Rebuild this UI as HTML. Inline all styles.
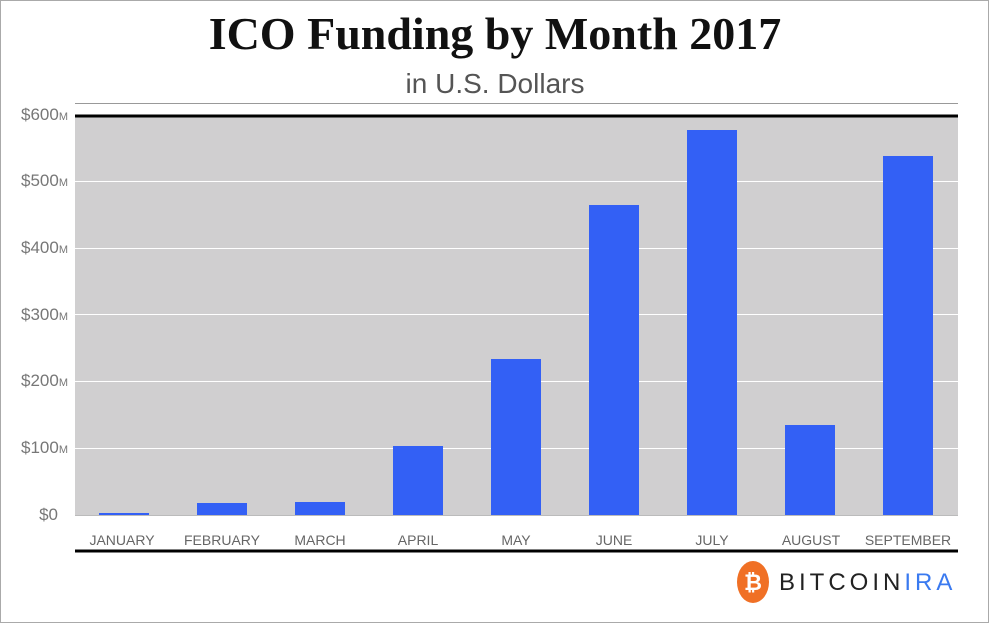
<!DOCTYPE html><html><head><style>
body{margin:0;width:990px;height:624px;background:#fff;overflow:hidden;font-family:"Liberation Sans",sans-serif}
</style></head><body>
<svg width="990" height="624" xmlns="http://www.w3.org/2000/svg">
<rect x="0.5" y="0.5" width="988" height="622" fill="#fff" stroke="#aaa"/>
<text x="495" y="49" text-anchor="middle" font-family="Liberation Serif,serif" font-weight="bold" font-size="46" fill="#111">ICO Funding by Month 2017</text>
<text x="495" y="93" text-anchor="middle" font-size="28" fill="#555">in U.S. Dollars</text>
<line x1="75" y1="103.5" x2="958" y2="103.5" stroke="#999"/>
<rect x="75" y="115" width="883" height="400" fill="#d0cfd0"/>
<g stroke="#fff" stroke-width="1">
<line x1="75" y1="181.5" x2="958" y2="181.5"/><line x1="75" y1="248.5" x2="958" y2="248.5"/><line x1="75" y1="314.5" x2="958" y2="314.5"/><line x1="75" y1="381.5" x2="958" y2="381.5"/><line x1="75" y1="448.5" x2="958" y2="448.5"/></g>
<line x1="75" y1="116" x2="958" y2="116" stroke="#000" stroke-width="3"/>
<g fill="#3360f5">
<rect x="99" y="513" width="50" height="2"/><rect x="197" y="503" width="50" height="12"/><rect x="295" y="502" width="50" height="13"/><rect x="393" y="446" width="50" height="69"/><rect x="491" y="359" width="50" height="156"/><rect x="589" y="205" width="50" height="310"/><rect x="687" y="130" width="50" height="385"/><rect x="785" y="425" width="50" height="90"/><rect x="883" y="156" width="50" height="359"/></g>
<line x1="75" y1="515.5" x2="958" y2="515.5" stroke="#bbb"/>
<g font-size="17" fill="#777" text-anchor="end">
<text x="68" y="120">$600<tspan font-size="11">M</tspan></text>
<text x="68" y="186">$500<tspan font-size="11">M</tspan></text>
<text x="68" y="253">$400<tspan font-size="11">M</tspan></text>
<text x="68" y="320">$300<tspan font-size="11">M</tspan></text>
<text x="68" y="386">$200<tspan font-size="11">M</tspan></text>
<text x="68" y="453">$100<tspan font-size="11">M</tspan></text>
<text x="58" y="520">$0</text></g>
<g font-size="14" fill="#666" text-anchor="middle">
<text x="122" y="545">JANUARY</text><text x="222" y="545">FEBRUARY</text><text x="320" y="545">MARCH</text><text x="418" y="545">APRIL</text><text x="516" y="545">MAY</text><text x="614" y="545">JUNE</text><text x="712" y="545">JULY</text><text x="811" y="545">AUGUST</text><text x="908" y="545">SEPTEMBER</text></g>
<line x1="75" y1="551" x2="958" y2="551" stroke="#000" stroke-width="3"/>
<ellipse cx="753" cy="582" rx="16" ry="21" fill="#f07025"/>
<text x="753" y="590" text-anchor="middle" font-size="22" font-weight="bold" fill="#fff">₿</text>
<text x="779" y="590" font-size="24" letter-spacing="4" fill="#222">BITCOIN<tspan fill="#3a7af0">IRA</tspan></text>
</svg>
</body></html>
